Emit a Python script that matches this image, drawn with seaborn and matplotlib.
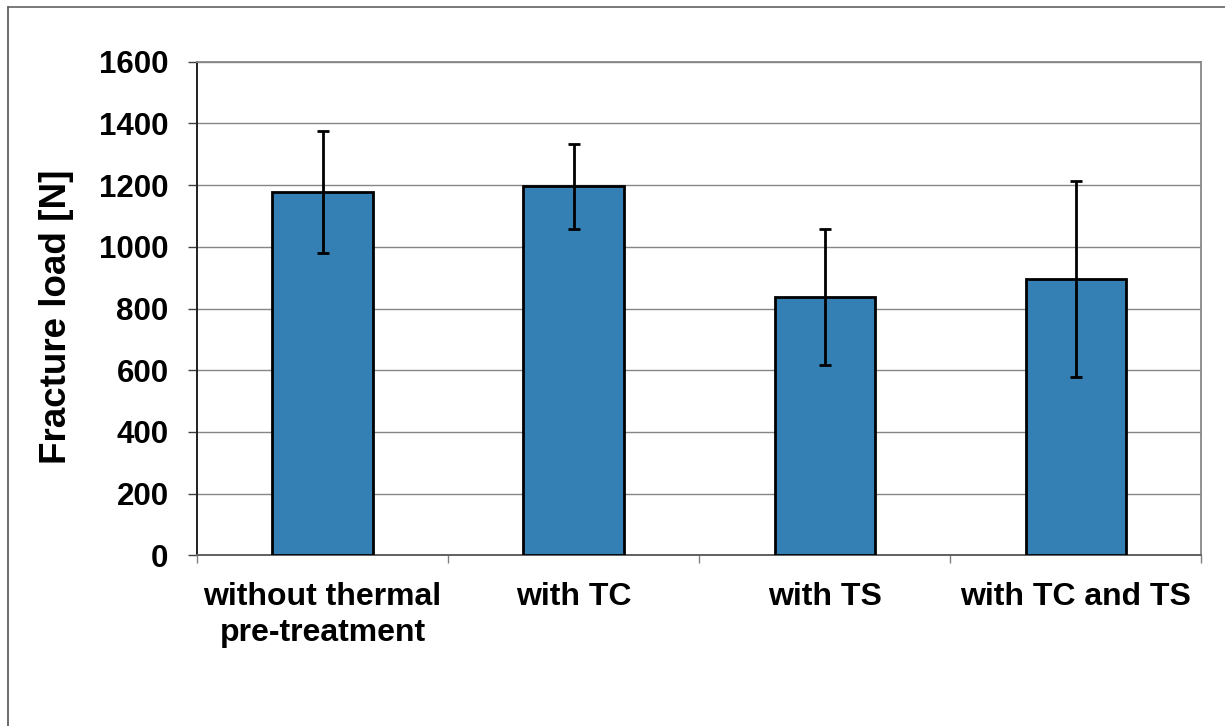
import matplotlib
matplotlib.use("Agg")
import matplotlib.pyplot as plt
from matplotlib.lines import Line2D
import seaborn as sns
import pandas as pd
import numpy as np

# Fracture load per pre-treatment group (mean and standard deviation, N)
groups = ["without thermal\npre-treatment", "with TC", "with TS", "with TC and TS"]
mean_load = [1177, 1196, 838, 896]
sd_load = [198, 138, 221, 318]
y_ticks = [0, 200, 400, 600, 800, 1000, 1200, 1400, 1600]

sns.set_theme(style="white")
plt.rcParams["font.family"] = ["Liberation Sans", "DejaVu Sans"]
plt.rcParams["font.weight"] = "bold"
plt.rcParams["text.color"] = "black"
plt.rcParams["axes.labelcolor"] = "black"
plt.rcParams["xtick.color"] = "black"
plt.rcParams["ytick.color"] = "black"

df = pd.DataFrame({"group": groups, "load": mean_load})

fig = plt.figure(figsize=(12.25, 7.26), dpi=100)
ax = fig.add_axes([0.1608, 0.2351, 0.8200, 0.6799])

sns.barplot(data=df, x="group", y="load", color="#3480B5", saturation=1,
            width=0.4, edgecolor="black", linewidth=2.0, errorbar=None,
            ax=ax, zorder=3)

# error bars centred on each bar
centers = [p.get_x() + p.get_width() / 2 for p in ax.patches]
ax.errorbar(centers, mean_load, yerr=sd_load, fmt="none", ecolor="black",
            elinewidth=2.0, capsize=4.5, capthick=2.0, zorder=4)

ax.set_ylim(0, 1600)
ax.set_xlim(-0.5, len(groups) - 0.5)
ax.set_yticks(y_ticks)
ax.set_yticklabels([str(v) for v in y_ticks], fontsize=22.5, fontweight="bold",
                   color="black")
ax.set_xticks(range(len(groups)))
ax.set_xticklabels(groups, fontsize=23, fontweight="bold", linespacing=1.28,
                   color="black")
ax.set_xticks(np.arange(-0.5, len(groups), 1.0), minor=True)

ax.tick_params(axis="x", which="major", length=0, pad=19)
ax.tick_params(axis="x", which="minor", length=6, width=1, color="#808080",
               direction="out", bottom=True)
ax.tick_params(axis="y", which="major", length=6.5, width=1, color="#404040",
               direction="out", left=True, pad=14)

ax.yaxis.grid(True, color="#868686", linewidth=1.0, zorder=0)
ax.set_axisbelow(True)

for side in ["top", "right"]:
    ax.spines[side].set_color("#888888")
    ax.spines[side].set_linewidth(1.3)
ax.spines["left"].set_color("#202020")
ax.spines["left"].set_linewidth(1.4)
ax.spines["bottom"].set_color("#606060")
ax.spines["bottom"].set_linewidth(1.4)

ax.set_xlabel("")
ax.set_ylabel("Fracture load [N]", fontsize=26.5, fontweight="bold",
              color="black")
ax.yaxis.set_label_coords(-0.1224, 0.484)

# outer chart frame (top and left edges)
W, H = 1225, 726
fig.add_artist(Line2D([8 / W, 1.0], [1 - 7 / H, 1 - 7 / H], color="#707070",
                      linewidth=1.3, transform=fig.transFigure))
fig.add_artist(Line2D([8 / W, 8 / W], [0.0, 1 - 7 / H], color="#606060",
                      linewidth=1.3, transform=fig.transFigure))

fig.savefig("out.png", dpi=100, facecolor="white")
